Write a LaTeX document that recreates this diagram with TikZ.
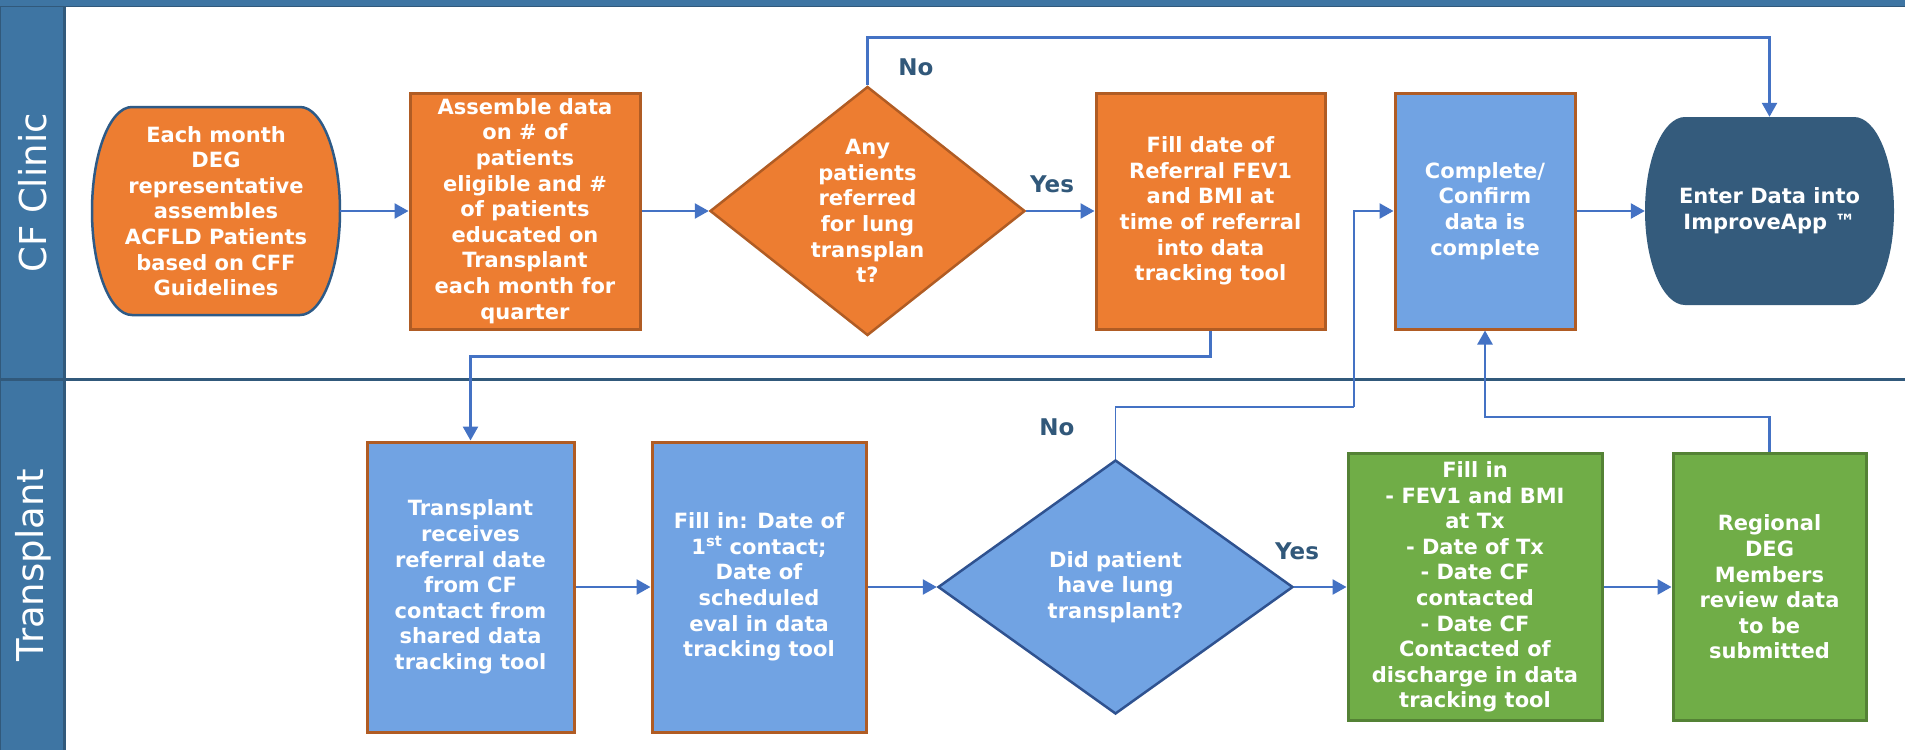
\documentclass[tikz,border=0pt]{standalone}
\usepackage{fontspec}
\setmainfont{DejaVu Sans}
\usetikzlibrary{arrows.meta,shapes.geometric}

\definecolor{hdr}{HTML}{3E75A3}
\definecolor{hdrline}{HTML}{31597B}
\definecolor{orangefill}{HTML}{ED7D31}
\definecolor{orangeline}{HTML}{B05C24}
\definecolor{bluefill}{HTML}{71A3E3}
\definecolor{greenfill}{HTML}{70AD47}
\definecolor{greenline}{HTML}{548235}
\definecolor{navy}{HTML}{345B7C}
\definecolor{termline}{HTML}{2E5A86}
\definecolor{dialine}{HTML}{2F5290}
\definecolor{connblue}{HTML}{4472C4}
\definecolor{lbltext}{HTML}{31587A}

\begin{document}
\begin{tikzpicture}[x=1pt,y=-1pt,
  every node/.style={inner sep=0pt},
  bodytext/.style={text=white, align=center, font=\fontsize{21pt}{25.6pt}\selectfont\bfseries},
  procbox/.style={bodytext, rectangle, draw, line width=3pt},
  orangebox/.style={procbox, fill=orangefill, draw=orangeline},
  bluebox/.style={procbox, fill=bluefill, draw=orangeline},
  greenbox/.style={procbox, fill=greenfill, draw=greenline},
  decision/.style={diamond, draw, line width=2.5pt},
  termnode/.style={bodytext, rectangle, draw=none},
  flow/.style={draw=connblue, line width=2.5pt, -{Triangle[length=14pt,width=15pt]}},
  flowline/.style={draw=connblue, line width=2.5pt},
  answer/.style={text=lbltext, font=\fontsize{23pt}{27pt}\selectfont\bfseries},
  lanetitle/.style={text=white, rotate=90, font=\fontsize{37pt}{44pt}\selectfont},
]
\useasboundingbox (0,0) rectangle (1905,750);
\fill[white] (0,0) rectangle (1905,750);

% swimlane frame
\fill[hdr] (0,0) rectangle (1905,7);
\fill[hdr] (0,0) rectangle (64,750);
\draw[hdrline, line width=1.5pt] (0,6.5) -- (1905,6.5);
\draw[hdrline, line width=1pt] (0.5,7) -- (0.5,750);
\draw[hdrline, line width=2.5pt] (64.5,7) -- (64.5,750);
\draw[hdrline, line width=3pt] (0,379.5) -- (1905,379.5);
\node[lanetitle] (laneA) at (33,193) {CF Clinic};
\node[lanetitle] (laneB) at (33,565) {Transplant};

% CF Clinic lane
\filldraw[fill=orangefill, draw=termline, line width=2.5pt]
  (132,107) -- (300,107) arc[start angle=-90, end angle=90, x radius=40, y radius=104]
  -- (132,315) arc[start angle=90, end angle=270, x radius=40, y radius=104] -- cycle;
\node[termnode, minimum width=248pt, minimum height=208pt] (start) at (216,211)
  {Each month\\DEG\\representative\\assembles\\ACFLD Patients\\based on CFF\\Guidelines};

\node[orangebox, minimum width=230pt, minimum height=236pt] (assemble) at (525,211)
  {Assemble data\\on \# of\\patients\\eligible and \#\\of patients\\educated on\\Transplant\\each month for\\quarter};

\node[decision, fill=orangefill, draw=orangeline, minimum width=315pt, minimum height=249pt] (q1) at (867.5,211) {};
\node[bodytext] (q1text) at (q1.center) {Any\\patients\\referred\\for lung\\transplan\\t?};

\node[orangebox, minimum width=229pt, minimum height=236pt] (referral) at (1210.5,211)
  {Fill date of\\Referral FEV1\\and BMI at\\time of referral\\into data\\tracking tool};

\node[bluebox, minimum width=180pt, minimum height=236pt] (confirm) at (1485,211)
  {Complete/\\Confirm\\data is\\complete};

\fill[navy]
  (1685,117) -- (1854,117) arc[start angle=-90, end angle=90, x radius=40, y radius=94]
  -- (1685,305) arc[start angle=90, end angle=270, x radius=40, y radius=94] -- cycle;
\node[termnode, minimum width=249pt, minimum height=188pt] (enter) at (1769.5,211)
  {Enter Data into\\ImproveApp ™};

% Transplant lane
\node[bluebox, minimum width=207pt, minimum height=290pt] (receive) at (470.5,587)
  {Transplant\\receives\\referral date\\from CF\\contact from\\shared data\\tracking tool};

\node[bluebox, minimum width=214pt, minimum height=290pt] (firstcontact) at (759,587)
  {Fill in: Date of\\1\textsuperscript{st} contact;\\Date of\\scheduled\\eval in data\\tracking tool};

\node[decision, fill=bluefill, draw=dialine, minimum width=355pt, minimum height=254pt] (q2) at (1115.5,587) {};
\node[bodytext] (q2text) at (q2.center) {Did patient\\have lung\\transplant?};

\node[greenbox, minimum width=254pt, minimum height=267pt] (txdata) at (1475,587)
  {Fill in\\- FEV1 and BMI\\at Tx\\- Date of Tx\\- Date CF\\contacted\\- Date CF\\Contacted of\\discharge in data\\tracking tool};

\node[greenbox, minimum width=193pt, minimum height=267pt] (review) at (1769.5,587)
  {Regional\\DEG\\Members\\review data\\to be\\submitted};

% branch labels
\node[answer] (no1) at (916,67) {No};
\node[answer] (yes1) at (1052,184) {Yes};
\node[answer] (no2) at (1057,427) {No};
\node[answer] (yes2) at (1297,551) {Yes};

% connectors
\draw[flow] (start.east) -- (assemble.west);
\draw[flow] (assemble.east) -- (q1.west);
\draw[flow] (q1.east) -- (referral.west);
\draw[flow] (q1.north) -- ++(0,-48) -| (enter.north);
\draw[flow] (referral.south) -- ++(0,26) -| (receive.north);
\draw[flow] (confirm.east) -- (enter.west);
\draw[flow] (receive.east) -- (firstcontact.west);
\draw[flow] (firstcontact.east) -- (q2.west);
\draw[flow] (q2.east) -- (txdata.west);
\coordinate (nobend) at (1354,407);
\draw[flowline, line width=1.2pt] (q2.north) |- (nobend);
\draw[flow] (nobend) |- (confirm.west);
\draw[flow] (txdata.east) -- (review.west);
\draw[flow] (review.north) -- ++(0,-35) -| (confirm.south);
\end{tikzpicture}
\end{document}
